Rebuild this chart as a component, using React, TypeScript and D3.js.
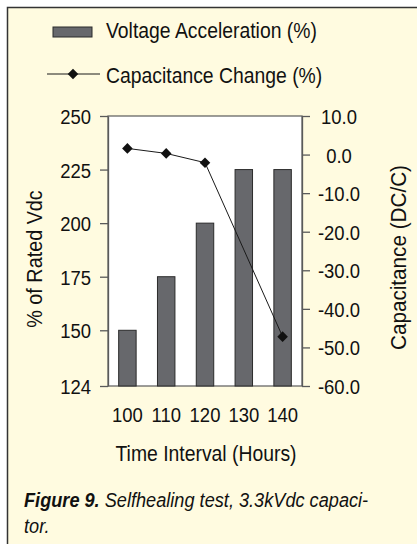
import React, { useEffect, useRef } from "react";
import * as d3 from "d3";

// Time interval categories (hours)
const hours = ["100", "110", "120", "130", "140"];
// Voltage acceleration, % of rated Vdc (bars, left axis)
const voltagePct = [150, 175, 200, 225, 225];
// Capacitance change, % (line, right axis) – no reading at 130
const capChange: (number | null)[] = [1.6, 0.3, -2.1, null, -47.2];
const leftTicks = [124, 150, 175, 200, 225, 250];
const rightTicks = [10, 0, -10, -20, -30, -40, -50, -60];

const W = 417;
const H = 544;
const FONT = "'Liberation Sans', Arial, Helvetica, sans-serif";
const SX = 0.88; // condensed look of the original type

const App: React.FC = () => {
  const svgRef = useRef<SVGSVGElement>(null);

  useEffect(() => {
    if (!svgRef.current) return;
    const svg = d3.select(svgRef.current);
    svg.selectAll("*").remove();

    const left = 108;
    const right = 302;
    const top = 116;
    const bottom = 386;

    // frame + background
    svg.append("rect").attr("width", W).attr("height", H).attr("fill", "#ffffff");
    svg
      .append("rect")
      .attr("x", 7.5)
      .attr("y", 7.5)
      .attr("width", W)
      .attr("height", H)
      .attr("fill", "#fffbe0");
    svg
      .append("path")
      .attr("d", `M7.5,${H}V7.5H${W}`)
      .attr("fill", "none")
      .attr("stroke", "#333")
      .attr("stroke-width", 1.5);

    const x = d3
      .scaleBand<string>()
      .domain(hours)
      .range([left, right])
      .paddingInner(0.55)
      .paddingOuter(0.275);
    const yL = d3.scaleLinear().domain([124, 250]).range([bottom, top]);
    const yR = d3.scaleLinear().domain([-60, 10]).range([bottom, top]);

    // plot area
    svg
      .append("rect")
      .attr("x", left)
      .attr("y", top)
      .attr("width", right - left)
      .attr("height", bottom - top)
      .attr("fill", "#ffffff")
      .attr("stroke", "#5a5a5a")
      .attr("stroke-width", 1.2);

    // bars
    svg
      .append("g")
      .selectAll("rect")
      .data(voltagePct)
      .join("rect")
      .attr("x", (_, i) => x(hours[i])!)
      .attr("y", (d) => yL(d))
      .attr("width", x.bandwidth())
      .attr("height", (d) => yL(124) - yL(d))
      .attr("fill", "#67686c")
      .attr("stroke", "#2b2b2b")
      .attr("stroke-width", 1);

    // left axis
    svg
      .append("g")
      .attr("transform", `translate(${left},0)`)
      .call(d3.axisLeft(yL).tickValues(leftTicks).tickSize(8).tickPadding(9).tickSizeOuter(0))
      .call((g) => g.selectAll(".domain, .tick line").attr("stroke", "#5a5a5a").attr("stroke-width", 1.3))
      .call((g) =>
        g
          .selectAll(".tick text")
          .attr("x", null)
          .attr("dy", "0.36em")
          .attr("transform", `translate(-17,0) scale(${SX},1)`)
          .attr("font-size", 21)
          .attr("font-family", FONT)
          .attr("fill", "#111")
      );

    // right axis
    svg
      .append("g")
      .attr("transform", `translate(${right},0)`)
      .call(
        d3
          .axisRight(yR)
          .tickValues(rightTicks)
          .tickSize(8)
          .tickSizeOuter(0)
          .tickFormat((d) => (d as number).toFixed(1))
      )
      .call((g) => g.selectAll(".domain, .tick line").attr("stroke", "#5a5a5a").attr("stroke-width", 1.3))
      .call((g) =>
        g
          .selectAll(".tick text")
          .attr("x", null)
          .attr("dy", "0.36em")
          .attr("text-anchor", "middle")
          .attr("transform", `translate(37,0) scale(${SX},1)`)
          .attr("font-size", 21)
          .attr("font-family", FONT)
          .attr("fill", "#111")
      );

    // x labels (no tick marks)
    svg
      .append("g")
      .selectAll("text")
      .data(hours)
      .join("text")
      .attr("transform", (d) => `translate(${x(d)! + x.bandwidth() / 2},422) scale(${SX},1)`)
      .attr("text-anchor", "middle")
      .attr("font-size", 21)
      .attr("font-family", FONT)
      .attr("fill", "#111")
      .text((d) => d);

    // capacitance line
    const pts = hours
      .map((h, i) => ({ h, v: capChange[i] }))
      .filter((d) => d.v !== null) as { h: string; v: number }[];
    const line = d3
      .line<{ h: string; v: number }>()
      .x((d) => x(d.h)! + x.bandwidth() / 2)
      .y((d) => yR(d.v));
    svg
      .append("path")
      .attr("d", line(pts))
      .attr("fill", "none")
      .attr("stroke", "#1a1a1a")
      .attr("stroke-width", 1);
    const marker = d3.symbol(d3.symbolSquare, 56);
    svg
      .append("g")
      .selectAll("path")
      .data(pts)
      .join("path")
      .attr("d", marker)
      .attr("transform", (d) => `translate(${x(d.h)! + x.bandwidth() / 2},${yR(d.v)}) rotate(45)`)
      .attr("fill", "#111");

    const label = (
      tx: number,
      ty: number,
      txt: string,
      opts: { anchor?: string; rotate?: number; size?: number; sx?: number } = {}
    ) =>
      svg
        .append("text")
        .attr(
          "transform",
          `translate(${tx},${ty})${opts.rotate ? ` rotate(${opts.rotate})` : ""} scale(${opts.sx ?? SX},1)`
        )
        .attr("text-anchor", opts.anchor ?? "start")
        .attr("font-size", opts.size ?? 22)
        .attr("font-family", FONT)
        .attr("fill", "#111")
        .text(txt);

    // legend
    svg
      .append("rect")
      .attr("x", 53)
      .attr("y", 27)
      .attr("width", 39)
      .attr("height", 10)
      .attr("fill", "#67686c")
      .attr("stroke", "#2b2b2b")
      .attr("stroke-width", 1);
    label(106, 37.5, "Voltage Acceleration (%)");
    svg
      .append("line")
      .attr("x1", 47)
      .attr("x2", 100)
      .attr("y1", 74)
      .attr("y2", 74)
      .attr("stroke", "#1a1a1a")
      .attr("stroke-width", 1);
    svg
      .append("path")
      .attr("d", marker)
      .attr("transform", "translate(73,74) rotate(45)")
      .attr("fill", "#111");
    label(106, 83, "Capacitance Change (%)");

    // axis titles
    label(206, 461, "Time Interval (Hours)", { anchor: "middle" });
    label(42, 259, "% of Rated Vdc", { anchor: "middle", rotate: -90, sx: 0.9 });
    label(406, 257.5, "Capacitance (DC/C)", { anchor: "middle", rotate: -90, sx: 0.94 });

    // caption
    const cap = svg
      .append("text")
      .attr("transform", `translate(24,507) scale(0.865,1)`)
      .attr("font-size", 21)
      .attr("font-family", FONT)
      .attr("font-style", "italic")
      .attr("fill", "#111");
    cap.append("tspan").attr("font-weight", "bold").text("Figure 9.");
    cap.append("tspan").text(" Selfhealing test, 3.3kVdc capaci-");
    svg
      .append("text")
      .attr("transform", `translate(24,533) scale(0.865,1)`)
      .attr("font-size", 21)
      .attr("font-family", FONT)
      .attr("font-style", "italic")
      .attr("fill", "#111")
      .text("tor.");
  }, []);

  return (
    <svg
      ref={svgRef}
      width={W}
      height={H}
      style={{ position: "absolute", left: 0, top: 0, display: "block" }}
    />
  );
};

export default App;
